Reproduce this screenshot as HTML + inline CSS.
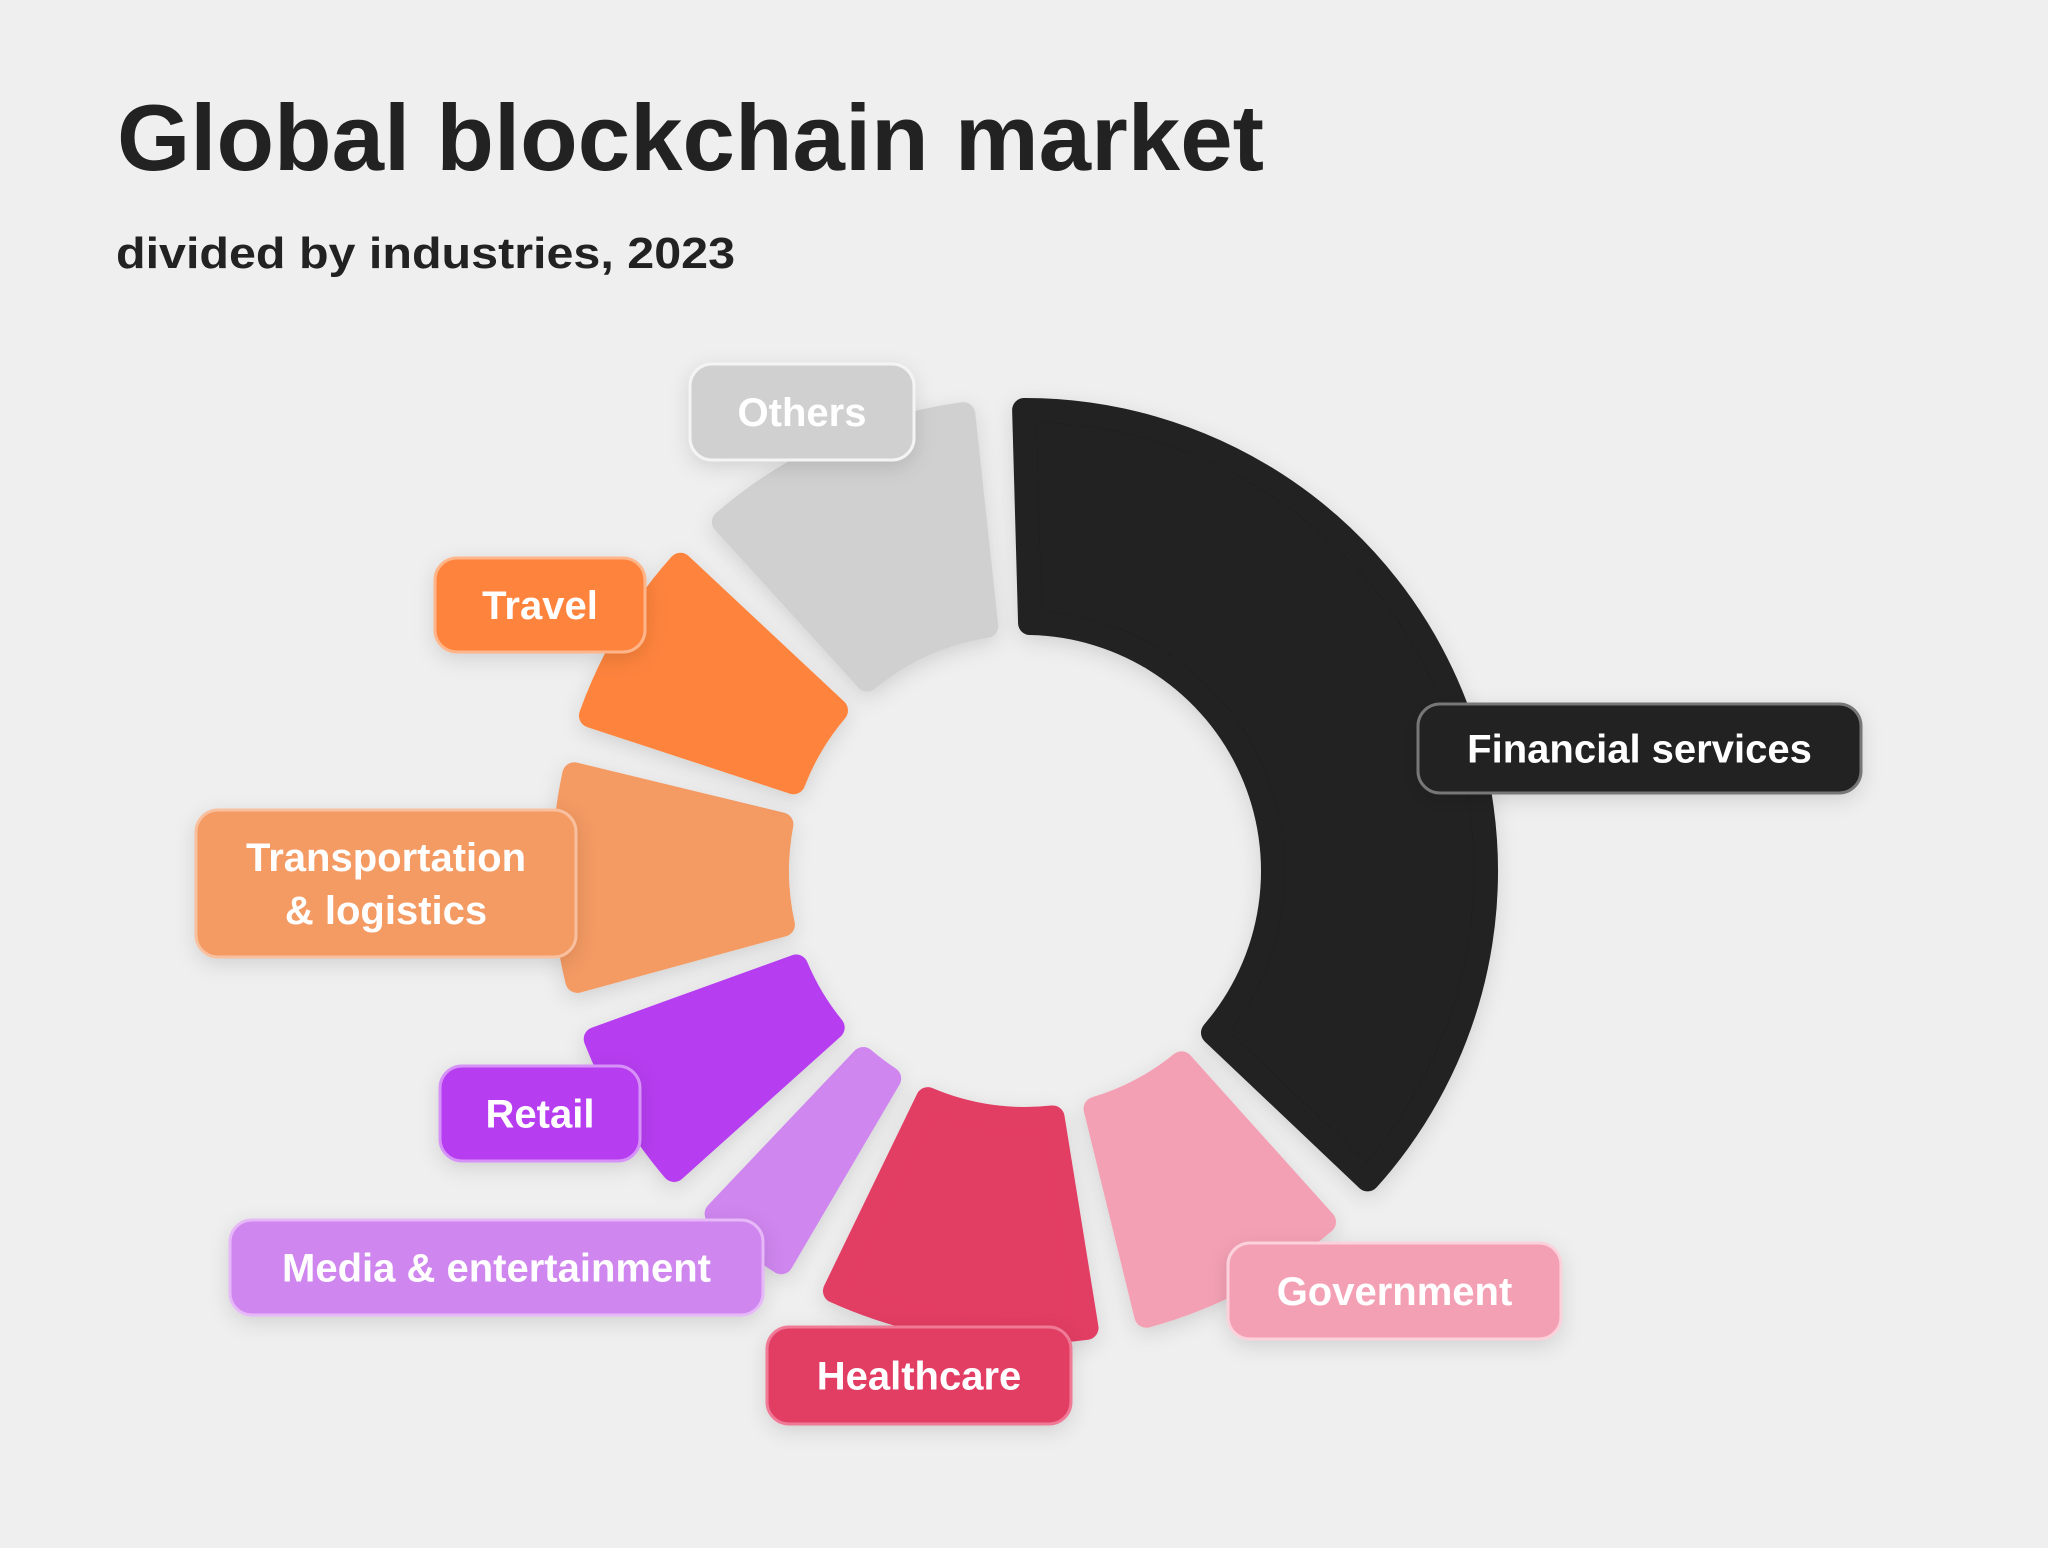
<!DOCTYPE html>
<html><head><meta charset="utf-8">
<style>
html,body{margin:0;padding:0;background:#efefef;}
svg{display:block;font-family:"Liberation Sans",sans-serif;}
</style></head>
<body>
<svg id="chart" width="2048" height="1548" viewBox="0 0 2048 1548">
<defs>
<filter id="sh" x="-30%" y="-30%" width="160%" height="160%"><feDropShadow dx="0" dy="6" stdDeviation="10" flood-color="#000" flood-opacity="0.12"/></filter>
</defs>
<rect width="2048" height="1548" fill="#efefef"/>
<text x="117" y="170" font-size="94" font-weight="bold" fill="#222" textLength="1147" lengthAdjust="spacingAndGlyphs">Global blockchain market</text>
<text x="116" y="268" font-size="44" font-weight="bold" fill="#222" textLength="619" lengthAdjust="spacingAndGlyphs">divided by industries, 2023</text>
<g id="slices"></g>
<g id="labels"></g>
</svg>
<script>
const categories = ["Financial services","Government","Healthcare","Media & entertainment","Retail","Transportation & logistics","Travel","Others"];
const values = [38.8, 9.1, 11.0, 4.9, 7.4, 9.3, 8.2, 11.3];
const colors = ["#202020","#f4a0b4","#e23c64","#cf86ef","#b63ef0","#f49a64","#fe843c","#d0d0d0"];
const borderColors = ["#777","#fbd2dc","#f07a96","#e6b8f8","#d792f8","#f8c09e","#ffb58a","#f4f4f4"];
const labelLines = [["Financial services"],["Government"],["Healthcare"],["Media & entertainment"],["Retail"],["Transportation","& logistics"],["Travel"],["Others"]];
const labelBoxes = [[1418,704,443,89],[1228,1243,333,96],[767,1327,304,97],[230,1220,533,95],[440,1066,200,95],[196,810,380,147],[435,558,210,94],[690,364,224,96]];

const NS="http://www.w3.org/2000/svg";
const cx=1025, cy=871, rOut=473, rIn=236, startDeg=-3.9, gapDeg=4.6, round=12;
const total=values.reduce((a,b)=>a+b,0);
function angleScale(v){return v/total*360;}
function pt(r,deg){const a=deg*Math.PI/180;return [cx+r*Math.sin(a), cy-r*Math.cos(a)];}
const gS=document.getElementById('slices'), gL=document.getElementById('labels');
let acc=startDeg;
values.forEach((v,i)=>{
  const span=angleScale(v);
  const ro=rOut-round, ri=rIn+round;
  const padO=(gapDeg/2)+ (round/ro)*180/Math.PI, padI=(gapDeg/2)+(round/ri)*180/Math.PI;
  const a0o=acc+padO, a1o=acc+span-padO, a0i=acc+padI, a1i=acc+span-padI;
  const p1=pt(ro,a0o), p2=pt(ro,a1o), p3=pt(ri,a1i), p4=pt(ri,a0i);
  const large=(a1o-a0o)>180?1:0, largeI=(a1i-a0i)>180?1:0;
  const d=`M${p1[0]},${p1[1]} A${ro},${ro} 0 ${large} 1 ${p2[0]},${p2[1]} L${p3[0]},${p3[1]} A${ri},${ri} 0 ${largeI} 0 ${p4[0]},${p4[1]} Z`;
  const path=document.createElementNS(NS,'path');
  path.setAttribute('d',d);
  path.setAttribute('fill',colors[i]);
  path.setAttribute('stroke',colors[i]);
  path.setAttribute('stroke-width',round*2);
  path.setAttribute('stroke-linejoin','round');
  path.setAttribute('filter','url(#sh)');
  
  
  gS.appendChild(path);
  acc+=span;
});
labelBoxes.forEach((b,i)=>{
  const g=document.createElementNS(NS,'g');
  
  
  const r=document.createElementNS(NS,'rect');
  r.setAttribute('x',b[0]);r.setAttribute('y',b[1]);r.setAttribute('width',b[2]);r.setAttribute('height',b[3]);
  r.setAttribute('rx',22);r.setAttribute('fill',colors[i]);r.setAttribute('stroke',borderColors[i]);r.setAttribute('stroke-width',3);
  r.setAttribute('filter','url(#sh)');
  g.appendChild(r);
  const lines=labelLines[i];
  const lh=53, midY=b[1]+b[3]/2;
  lines.forEach((ln,j)=>{
    const t=document.createElementNS(NS,'text');
    t.setAttribute('x',b[0]+b[2]/2);
    t.setAttribute('y',midY+(j-(lines.length-1)/2)*lh+14);
    t.setAttribute('text-anchor','middle');
    t.setAttribute('font-size',40);
    t.setAttribute('font-weight','bold');
    t.setAttribute('fill','#fff');
    t.textContent=ln;
    g.appendChild(t);
  });
  gL.appendChild(g);
});
</script>
</body></html>
